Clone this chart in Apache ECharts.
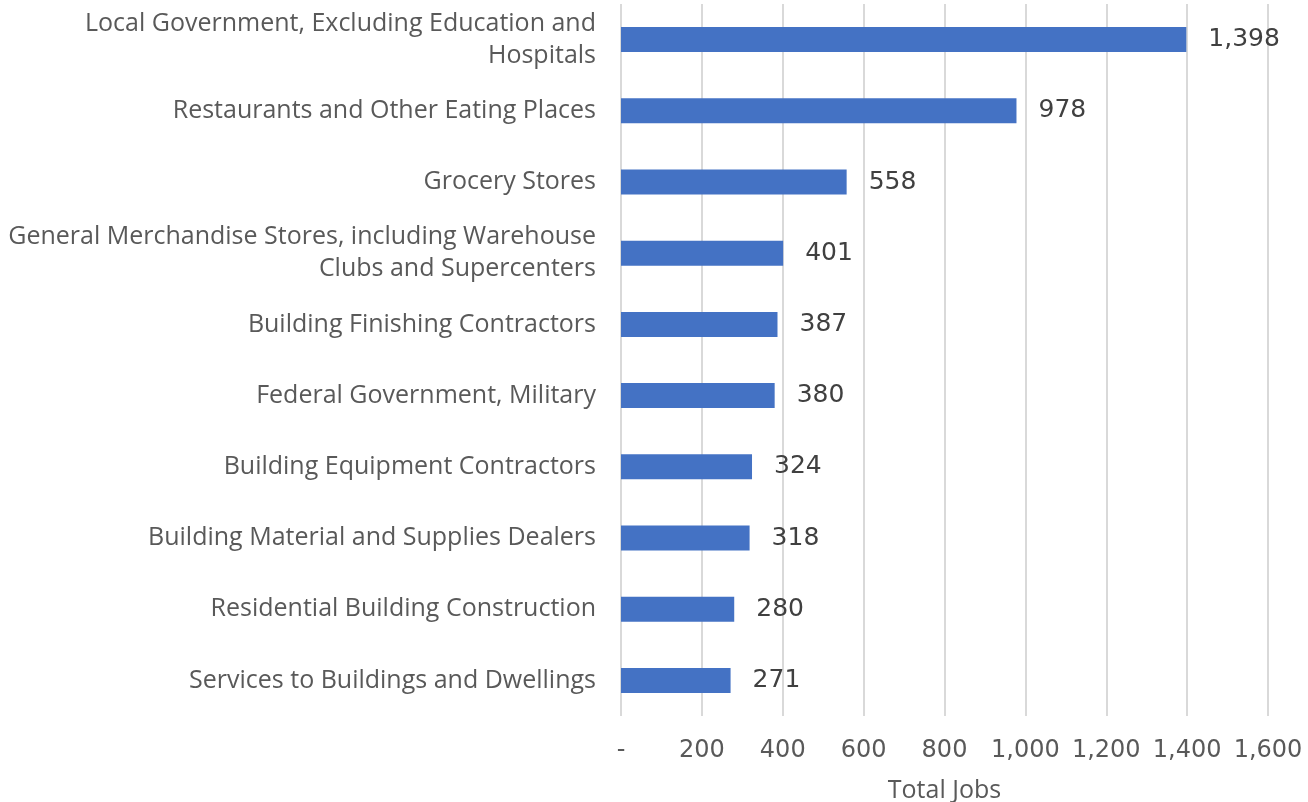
<!DOCTYPE html>
<html><head><meta charset="utf-8">
<script src="https://cdn.jsdelivr.net/npm/echarts@6/dist/echarts.min.js"></script>
<style>html,body{margin:0;padding:0;background:#fff}#c{width:1308px;height:802px}</style>
</head><body><div id="c"></div>
<script>
const categories = [
  "Local Government, Excluding Education and Hospitals",
  "Restaurants and Other Eating Places",
  "Grocery Stores",
  "General Merchandise Stores, including Warehouse Clubs and Supercenters",
  "Building Finishing Contractors",
  "Federal Government, Military",
  "Building Equipment Contractors",
  "Building Material and Supplies Dealers",
  "Residential Building Construction",
  "Services to Buildings and Dwellings"
];
const totalJobs = [1398, 978, 558, 401, 387, 380, 324, 318, 280, 271];
const axisTitle = "Total Jobs";

const FONT = "Open Sans";
const NUMFONT = "DejaVu Sans";
const CAT_SIZE = 25;
const WRAP_W = 596;

const ctx = document.createElement('canvas').getContext('2d');
ctx.font = CAT_SIZE + 'px "' + FONT + '"';
function wrap(text) {
  const words = text.split(' ');
  const lines = [];
  let cur = '';
  for (const w of words) {
    const test = cur ? cur + ' ' + w : w;
    if (cur && ctx.measureText(test).width > WRAP_W) { lines.push(cur); cur = w; }
    else cur = test;
  }
  if (cur) lines.push(cur);
  return lines.join('\n');
}

const chart = echarts.init(document.getElementById('c'));
function render() {
  ctx.font = CAT_SIZE + 'px "' + FONT + '"';
  chart.setOption({
    animation: false,
    grid: {left: 621, right: 40, top: 4, bottom: 86, containLabel: false, outerBoundsMode: 'none'},
    xAxis: {
      type: 'value', min: 0, max: 1600, interval: 200,
      name: axisTitle, nameLocation: 'middle', nameGap: 62,
      nameTextStyle: {fontFamily: FONT, fontSize: 25, color: '#595959'},
      axisLine: {show: false}, axisTick: {show: false},
      axisLabel: {fontFamily: NUMFONT, fontSize: 24, color: '#595959', margin: 23,
        formatter: v => v === 0 ? '-' : v.toLocaleString('en-US')},
      splitLine: {lineStyle: {color: '#d9d9d9', width: 2}}
    },
    yAxis: {
      type: 'category', data: categories, inverse: true,
      axisLine: {show: false}, axisTick: {show: false},
      axisLabel: {fontFamily: FONT, fontSize: CAT_SIZE, color: '#595959', margin: 25,
        lineHeight: 32, align: 'right', formatter: v => wrap(v)}
    },
    series: [{
      type: 'bar', data: totalJobs, barWidth: 25,
      itemStyle: {color: '#4472C4'},
      label: {show: true, position: 'right', distance: 22, fontFamily: NUMFONT, fontSize: 25, color: '#404040',
        formatter: p => p.value.toLocaleString('en-US')}
    }]
  }, true);
}
render();
if (document.fonts && document.fonts.ready) document.fonts.ready.then(render);
</script></body></html>
